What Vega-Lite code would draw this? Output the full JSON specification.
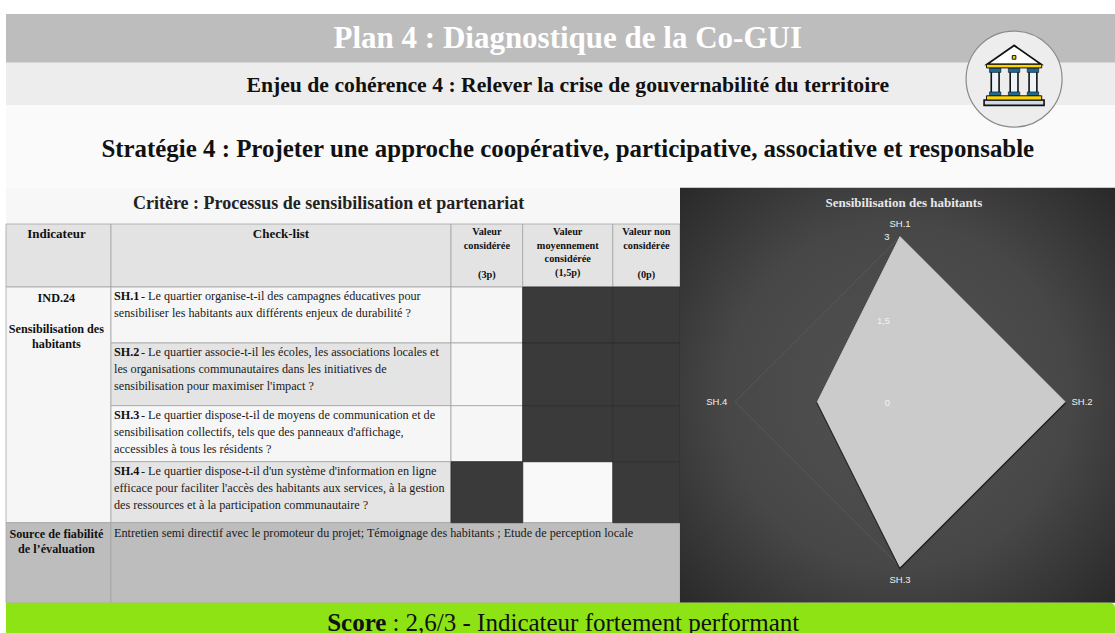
{
"$schema":"https://vega.github.io/schema/vega-lite/v6.json",
"width":1115,"height":633,"autosize":{"type":"fit","contains":"padding"},"padding":0,"background":"#ffffff",
"config":{"view":{"stroke":null},"text":{"font":"Liberation Serif"}},
"resolve":{"scale":{"x":"independent","y":"independent"}},
"layer":[
{"layer":[
 {"data":{"values":[
  {"col":1,"colEnd":7,"row":1,"rowEnd":2,"kind":"title"},
  {"col":1,"colEnd":7,"row":2,"rowEnd":3,"kind":"sub"},
  {"col":1,"colEnd":7,"row":3,"rowEnd":4,"kind":"strategy"},
  {"col":1,"colEnd":6,"row":4,"rowEnd":5,"kind":"critere"}]},
  "mark":{"type":"rect"},
  "encoding":{
   "x":{"field":"col","type":"quantitative","axis":null,"scale":{"type":"linear","zero":false,"nice":false,"domain":[0,1,2,3,4,5,6,7],"range":[0,6,111,451,522.7,612.8,680,1115]}},
   "x2":{"field":"colEnd"},
   "y":{"field":"row","type":"quantitative","axis":null,"scale":{"type":"linear","zero":false,"nice":false,"domain":[0,1,2,3,4,5,6,7,8,9,10,11,12],"range":[0,14,62.7,105,187.7,224,287,343,405.7,461.7,522.7,602.7,633]}},
   "y2":{"field":"rowEnd"},
   "color":{"field":"kind","type":"nominal","legend":null,"scale":{"domain":["title","sub","strategy","critere","head","light","mid","source","dark","blank"],"range":["#bdbdbd","#ededed","#fafafa","#f7f7f7","#e3e3e3","#f6f6f6","#e4e4e4","#bdbdbd","#3a3a3a","#f9f9f9"]}}}},
 {"data":{"values":[
  {"col":1,"colEnd":2,"row":5,"rowEnd":6,"kind":"head"},{"col":2,"colEnd":3,"row":5,"rowEnd":6,"kind":"head"},{"col":3,"colEnd":4,"row":5,"rowEnd":6,"kind":"head"},{"col":4,"colEnd":5,"row":5,"rowEnd":6,"kind":"head"},{"col":5,"colEnd":6,"row":5,"rowEnd":6,"kind":"head"},
  {"col":1,"colEnd":2,"row":6,"rowEnd":10,"kind":"light"},
  {"col":2,"colEnd":3,"row":6,"rowEnd":7,"kind":"light"},{"col":2,"colEnd":3,"row":7,"rowEnd":8,"kind":"mid"},{"col":2,"colEnd":3,"row":8,"rowEnd":9,"kind":"light"},{"col":2,"colEnd":3,"row":9,"rowEnd":10,"kind":"mid"},
  {"col":3,"colEnd":4,"row":6,"rowEnd":7,"kind":"light"},{"col":3,"colEnd":4,"row":7,"rowEnd":8,"kind":"light"},{"col":3,"colEnd":4,"row":8,"rowEnd":9,"kind":"light"},
  {"col":4,"colEnd":5,"row":9,"rowEnd":10,"kind":"blank"},
  {"col":1,"colEnd":2,"row":10,"rowEnd":11,"kind":"source"},{"col":2,"colEnd":6,"row":10,"rowEnd":11,"kind":"source"}]},
  "mark":{"type":"rect","stroke":"#a4a4a4","strokeWidth":0.8},
  "encoding":{"x":{"field":"col","type":"quantitative","axis":null},"x2":{"field":"colEnd"},"y":{"field":"row","type":"quantitative","axis":null},"y2":{"field":"rowEnd"},
   "color":{"field":"kind","type":"nominal","legend":null}}},
 {"data":{"values":[
  {"col":3,"colEnd":4,"row":9,"rowEnd":10,"kind":"dark"},
  {"col":4,"colEnd":5,"row":6,"rowEnd":7,"kind":"dark"},{"col":4,"colEnd":5,"row":7,"rowEnd":8,"kind":"dark"},{"col":4,"colEnd":5,"row":8,"rowEnd":9,"kind":"dark"},
  {"col":5,"colEnd":6,"row":6,"rowEnd":7,"kind":"dark"},{"col":5,"colEnd":6,"row":7,"rowEnd":8,"kind":"dark"},{"col":5,"colEnd":6,"row":8,"rowEnd":9,"kind":"dark"},{"col":5,"colEnd":6,"row":9,"rowEnd":10,"kind":"dark"}]},
  "mark":{"type":"rect","stroke":"#2c2c2c","strokeWidth":0.8},
  "encoding":{"x":{"field":"col","type":"quantitative","axis":null},"x2":{"field":"colEnd"},"y":{"field":"row","type":"quantitative","axis":null},"y2":{"field":"rowEnd"},
   "color":{"field":"kind","type":"nominal","legend":null}}},
 {"data":{"values":[{"col":6,"colEnd":7,"row":4,"rowEnd":11}]},
  "mark":{"type":"rect","color":{"gradient":"radial","x1":0.5,"y1":0.5,"r1":0,"x2":0.5,"y2":0.5,"r2":0.72,"stops":[{"offset":0,"color":"#525252"},{"offset":0.55,"color":"#474747"},{"offset":1,"color":"#262626"}]}},
  "encoding":{"x":{"field":"col","type":"quantitative","axis":null},"x2":{"field":"colEnd"},"y":{"field":"row","type":"quantitative","axis":null},"y2":{"field":"rowEnd"}}},
 {"data":{"values":[{"col":1,"colEnd":7,"row":11,"rowEnd":12}]},
  "mark":{"type":"rect","fill":"#8ee314","cornerRadiusTopRight":5},
  "encoding":{"x":{"field":"col","type":"quantitative","axis":null},"x2":{"field":"colEnd"},"y":{"field":"row","type":"quantitative","axis":null},"y2":{"field":"rowEnd"}}},
 {"data":{"values":[{"col":4.5,"row":1.52,"label":"Plan 4 : Diagnostique de la Co-GUI"}]},
  "mark":{"type":"text","fontSize":31,"fontWeight":"bold","color":"#ffffff","align":"center","baseline":"middle"},
  "encoding":{"x":{"field":"col","type":"quantitative","axis":null},"y":{"field":"row","type":"quantitative","axis":null},"text":{"field":"label"}}},
 {"data":{"values":[{"col":4.5,"row":2.53,"label":"Enjeu de cohérence 4 : Relever la crise de gouvernabilité du territoire"}]},
  "mark":{"type":"text","fontSize":21.7,"fontWeight":"bold","color":"#111111","align":"center","baseline":"middle"},
  "encoding":{"x":{"field":"col","type":"quantitative","axis":null},"y":{"field":"row","type":"quantitative","axis":null},"text":{"field":"label"}}},
 {"data":{"values":[{"col":4.5,"row":3.54,"label":"Stratégie 4 : Projeter une approche coopérative, participative, associative et responsable"}]},
  "mark":{"type":"text","fontSize":24.9,"fontWeight":"bold","color":"#111111","align":"center","baseline":"middle"},
  "encoding":{"x":{"field":"col","type":"quantitative","axis":null},"y":{"field":"row","type":"quantitative","axis":null},"text":{"field":"label"}}},
 {"data":{"values":[{"col":2.64,"row":4.44,"label":"Critère : Processus de sensibilisation et partenariat"}]},
  "mark":{"type":"text","fontSize":18,"fontWeight":"bold","color":"#222222","align":"center","baseline":"middle"},
  "encoding":{"x":{"field":"col","type":"quantitative","axis":null},"y":{"field":"row","type":"quantitative","axis":null},"text":{"field":"label"}}},
 {"data":{"values":[{"col":2.81,"row":11.66,"label":"Score"}]},
  "mark":{"type":"text","fontSize":25,"fontWeight":"bold","color":"#111111","align":"right","baseline":"middle"},
  "encoding":{"x":{"field":"col","type":"quantitative","axis":null},"y":{"field":"row","type":"quantitative","axis":null},"text":{"field":"label"}}},
 {"data":{"values":[{"col":2.81,"row":11.66,"label":": 2,6/3 - Indicateur fortement performant"}]},
  "mark":{"type":"text","fontSize":25,"color":"#111111","align":"left","baseline":"middle","dx":6},
  "encoding":{"x":{"field":"col","type":"quantitative","axis":null},"y":{"field":"row","type":"quantitative","axis":null},"text":{"field":"label"}}},
 {"data":{"values":[{"col":1.48,"row":5,"label":"Indicateur"},{"col":2.5,"row":5,"label":"Check-list"}]},
  "mark":{"type":"text","fontSize":13,"fontWeight":"bold","color":"#111111","align":"center","baseline":"top","dy":4},
  "encoding":{"x":{"field":"col","type":"quantitative","axis":null},"y":{"field":"row","type":"quantitative","axis":null},"text":{"field":"label"}}},
 {"data":{"values":[{"col":3.5,"row":5,"label":"Valeur\nconsidérée"},{"col":3.5,"row":5.69,"label":"(3p)"},{"col":4.5,"row":5,"label":"Valeur\nmoyennement\nconsidérée\n(1,5p)"},{"col":5.5,"row":5,"label":"Valeur non\nconsidérée"},{"col":5.5,"row":5.69,"label":"(0p)"}]},
  "mark":{"type":"text","fontSize":10.3,"fontWeight":"bold","color":"#111111","align":"center","baseline":"top","lineBreak":"\n","lineHeight":13.7,"dy":3},
  "encoding":{"x":{"field":"col","type":"quantitative","axis":null},"y":{"field":"row","type":"quantitative","axis":null},"text":{"field":"label"}}},
 {"data":{"values":[{"col":1.48,"row":6,"label":"IND.24"},{"col":1.48,"row":6.55,"label":"Sensibilisation des\nhabitants"},{"col":1.48,"row":10,"label":"Source de fiabilité\nde l’évaluation"}]},
  "mark":{"type":"text","fontSize":12.2,"fontWeight":"bold","color":"#111111","align":"center","baseline":"top","lineBreak":"\n","lineHeight":15.7,"dy":5},
  "encoding":{"x":{"field":"col","type":"quantitative","axis":null},"y":{"field":"row","type":"quantitative","axis":null},"text":{"field":"label"}}},
 {"data":{"values":[{"col":2,"row":6,"label":"SH.1"},{"col":2,"row":7,"label":"SH.2"},{"col":2,"row":8,"label":"SH.3"},{"col":2,"row":9,"label":"SH.4"}]},
  "mark":{"type":"text","fontSize":12.2,"fontWeight":"bold","color":"#111111","align":"left","baseline":"top","dx":3,"dy":3},
  "encoding":{"x":{"field":"col","type":"quantitative","axis":null},"y":{"field":"row","type":"quantitative","axis":null},"text":{"field":"label"}}},
 {"data":{"values":[
  {"col":2,"row":6,"label":"- Le quartier organise-t-il des campagnes éducatives pour"},
  {"col":2,"row":7,"label":"- Le quartier associe-t-il les écoles, les associations locales et"},
  {"col":2,"row":8,"label":"- Le quartier dispose-t-il de moyens de communication et de"},
  {"col":2,"row":9,"label":"- Le quartier dispose-t-il d'un système d'information en ligne"}]},
  "mark":{"type":"text","fontSize":12.2,"color":"#1a1a1a","align":"left","baseline":"top","dx":30,"dy":3},
  "encoding":{"x":{"field":"col","type":"quantitative","axis":null},"y":{"field":"row","type":"quantitative","axis":null},"text":{"field":"label"}}},
 {"data":{"values":[
  {"col":2,"row":6,"label":"sensibiliser les habitants aux différents enjeux de durabilité ?"},
  {"col":2,"row":7,"label":"les organisations communautaires dans les initiatives de\nsensibilisation pour maximiser l'impact ?"},
  {"col":2,"row":8,"label":"sensibilisation collectifs, tels que des panneaux d'affichage,\naccessibles à tous les résidents ?"},
  {"col":2,"row":9,"label":"efficace pour faciliter l'accès des habitants aux services, à la gestion\ndes ressources et à la participation communautaire ?"}]},
  "mark":{"type":"text","fontSize":12.2,"color":"#1a1a1a","align":"left","baseline":"top","lineBreak":"\n","lineHeight":17,"dx":3,"dy":20},
  "encoding":{"x":{"field":"col","type":"quantitative","axis":null},"y":{"field":"row","type":"quantitative","axis":null},"text":{"field":"label"}}},
 {"data":{"values":[{"col":2,"row":10,"label":"Entretien semi directif avec le promoteur du projet; Témoignage des habitants ; Etude de perception locale"}]},
  "mark":{"type":"text","fontSize":12.2,"color":"#1a1a1a","align":"left","baseline":"top","dx":3,"dy":4},
  "encoding":{"x":{"field":"col","type":"quantitative","axis":null},"y":{"field":"row","type":"quantitative","axis":null},"text":{"field":"label"}}},
 {"data":{"values":[{"col":6.768,"row":2.387}]},
  "mark":{"type":"point","shape":"circle","size":9216,"filled":true,"fill":"#ededed","stroke":"#8a8a8a","strokeWidth":1.2,"opacity":1},
  "encoding":{"x":{"field":"col","type":"quantitative","axis":null},"y":{"field":"row","type":"quantitative","axis":null}}},
 {"data":{"values":[{"col":6.768,"row":2.3}]},
  "mark":{"type":"point","shape":"M0 -1L-.9 -.37L.9 -.37Z","size":3600,"filled":true,"fill":"#ffffff","stroke":"#111111","strokeWidth":1.8,"opacity":1},
  "encoding":{"x":{"field":"col","type":"quantitative","axis":null},"y":{"field":"row","type":"quantitative","axis":null}}},
 {"data":{"values":[{"col":6.768,"row":2.3}]},
  "mark":{"type":"point","shape":"M-.76 -.25H-.5V.65H-.76ZM-.13 -.25H.13V.65H-.13ZM.5 -.25H.76V.65H.5Z","size":3600,"filled":true,"fill":"#eef3f8","stroke":"#111111","strokeWidth":1.6,"opacity":1},
  "encoding":{"x":{"field":"col","type":"quantitative","axis":null},"y":{"field":"row","type":"quantitative","axis":null}}},
 {"data":{"values":[{"col":6.768,"row":2.3}]},
  "mark":{"type":"point","shape":"M-.82 -.25H-.44V-.1H-.82ZM-.19 -.25H.19V-.1H-.19ZM.44 -.25H.82V-.1H.44ZM-.82 .55H-.44V.68H-.82ZM-.19 .55H.19V.68H-.19ZM.44 .55H.82V.68H.44Z","size":3600,"filled":true,"fill":"#1f6a94","stroke":"#111111","strokeWidth":0.6,"opacity":1},
  "encoding":{"x":{"field":"col","type":"quantitative","axis":null},"y":{"field":"row","type":"quantitative","axis":null}}},
 {"data":{"values":[{"col":6.768,"row":2.3}]},
  "mark":{"type":"point","shape":"M-1 .82H1V1H-1Z","size":3600,"filled":true,"fill":"#cfdbe5","stroke":"#111111","strokeWidth":1.6,"opacity":1},
  "encoding":{"x":{"field":"col","type":"quantitative","axis":null},"y":{"field":"row","type":"quantitative","axis":null}}},
 {"data":{"values":[{"col":6.768,"row":2.3}]},
  "mark":{"type":"point","shape":"M-.92 -.37H.92V-.25H-.92ZM-.92 .68H.92V.82H-.92ZM-.06 -.66H.06V-.54H-.06Z","size":3600,"filled":true,"fill":"#ffd400","stroke":"#111111","strokeWidth":1,"opacity":1},
  "encoding":{"x":{"field":"col","type":"quantitative","axis":null},"y":{"field":"row","type":"quantitative","axis":null}}}
]},
{"layer":[
 {"data":{"values":[{"axis":"SH.1","i":1,"x":0,"y":3},{"axis":"SH.2","i":2,"x":3,"y":0},{"axis":"SH.3","i":3,"x":0,"y":-3},{"axis":"SH.4","i":4,"x":-3,"y":0}]},
  "mark":{"type":"line","interpolate":"linear-closed","stroke":"#606060","strokeWidth":0.7},
  "encoding":{
   "x":{"field":"x","type":"quantitative","axis":null,"scale":{"zero":false,"nice":false,"domain":[-3,3],"range":[735,1065]}},
   "y":{"field":"y","type":"quantitative","axis":null,"scale":{"zero":false,"nice":false,"domain":[-3,3],"range":[566.7,236.7]}},
   "order":{"field":"i"}}},
 {"data":{"values":[{"axis":"SH.1","i":1,"x":0,"y":3},{"axis":"SH.2","i":2,"x":3,"y":0},{"axis":"SH.3","i":3,"x":0,"y":-3},{"axis":"SH.4","i":4,"x":-1.5,"y":0}]},
  "mark":{"type":"line","interpolate":"linear-closed","stroke":"#1e1e1e","strokeWidth":2,"fill":"#1e1e1e","yOffset":1.5,"strokeOpacity":0.7},
  "encoding":{"x":{"field":"x","type":"quantitative","axis":null},"y":{"field":"y","type":"quantitative","axis":null},"order":{"field":"i"}}},
 {"data":{"values":[{"axis":"SH.1","i":1,"x":0,"y":3},{"axis":"SH.2","i":2,"x":3,"y":0},{"axis":"SH.3","i":3,"x":0,"y":-3},{"axis":"SH.4","i":4,"x":-1.5,"y":0}]},
  "mark":{"type":"line","interpolate":"linear-closed","stroke":"#d2d2d2","strokeWidth":1,"fill":"#cbcbcb"},
  "encoding":{"x":{"field":"x","type":"quantitative","axis":null},"y":{"field":"y","type":"quantitative","axis":null},"order":{"field":"i"}}},
 {"data":{"values":[{"x":0,"y":3.24,"label":"SH.1"},{"x":3.31,"y":0,"label":"SH.2"},{"x":0,"y":-3.24,"label":"SH.3"},{"x":-3.33,"y":0,"label":"SH.4"}]},
  "mark":{"type":"text","font":"Liberation Sans","fontSize":9.5,"color":"#f0f0f0","align":"center","baseline":"middle"},
  "encoding":{"x":{"field":"x","type":"quantitative","axis":null},"y":{"field":"y","type":"quantitative","axis":null},"text":{"field":"label"}}},
 {"data":{"values":[{"x":-0.24,"y":3,"label":"3"},{"x":-0.3,"y":1.46,"label":"1,5"},{"x":-0.23,"y":-0.02,"label":"0"}]},
  "mark":{"type":"text","font":"Liberation Sans","fontSize":9.5,"color":"#f2f2f2","align":"center","baseline":"middle"},
  "encoding":{"x":{"field":"x","type":"quantitative","axis":null},"y":{"field":"y","type":"quantitative","axis":null},"text":{"field":"label"}}},
 {"data":{"values":[{"x":0.07,"y":3.62,"label":"Sensibilisation des habitants"}]},
  "mark":{"type":"text","fontSize":13,"fontWeight":"bold","color":"#e8e8e8","align":"center","baseline":"middle"},
  "encoding":{"x":{"field":"x","type":"quantitative","axis":null},"y":{"field":"y","type":"quantitative","axis":null},"text":{"field":"label"}}}
]}
]}
